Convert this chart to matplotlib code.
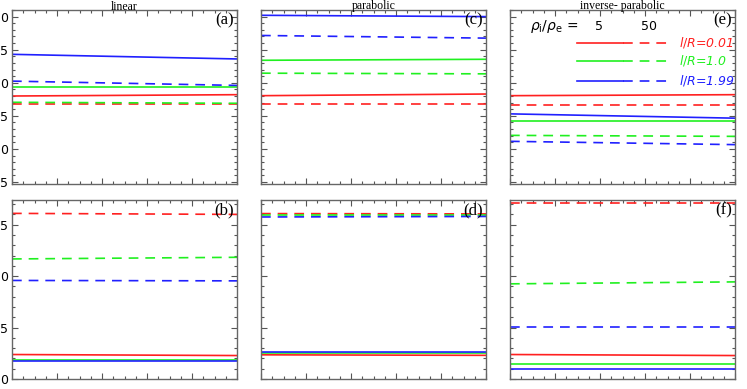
import matplotlib
matplotlib.use("Agg")
import matplotlib.pyplot as plt
from matplotlib.ticker import MultipleLocator

# x runs across each panel, values only read at the two ends
X = [0.0, 1.0]

# order: l/R = 0.01, 1.0, 1.99
LR_LABELS = ["0.01", "1.0", "1.99"]
COLORS = ["#ff2020", "#20f020", "#2020ff"]
RHO = ["5", "50"]

# panel (a) linear, top row
A_SOLID = [[1.80, 1.82], [1.93, 1.93], [2.43, 2.36]]
A_DASH = [[1.675, 1.675], [1.705, 1.69], [2.025, 1.96]]
# panel (c) parabolic, top row
C_SOLID = [[1.805, 1.83], [2.34, 2.355], [3.02, 3.00]]
C_DASH = [[1.68, 1.68], [2.145, 2.135], [2.715, 2.675]]
# panel (e) inverse-parabolic, top row
E_SOLID = [[1.805, 1.82], [1.425, 1.425], [1.53, 1.465]]
E_DASH = [[1.67, 1.67], [1.205, 1.19], [1.115, 1.065]]
# panel (b) linear, bottom row
B_SOLID = [[0.238, 0.228], [0.189, 0.189], [0.176, 0.176]]
B_DASH = [[1.61, 1.60], [1.167, 1.183], [0.958, 0.954]]
# panel (d) parabolic, bottom row
D_SOLID = [[0.235, 0.23], [0.252, 0.252], [0.265, 0.265]]
D_DASH = [[1.608, 1.605], [1.59, 1.59], [1.575, 1.58]]
# panel (f) inverse-parabolic, bottom row
F_SOLID = [[0.238, 0.228], [0.15, 0.15], [0.095, 0.095]]
F_DASH = [[1.715, 1.715], [0.925, 0.944], [0.503, 0.503]]

TITLES = ["linear", "parabolic", "inverse- parabolic"]
TOP = [("(a)", A_SOLID, A_DASH), ("(c)", C_SOLID, C_DASH), ("(e)", E_SOLID, E_DASH)]
BOT = [("(b)", B_SOLID, B_DASH), ("(d)", D_SOLID, D_DASH), ("(f)", F_SOLID, F_DASH)]

TOP_YLIM = (0.47, 3.1)
BOT_YLIM = (0.0, 1.74)
DASH = (7.0, 5.0)

W, H = 747, 389
fig = plt.figure(figsize=(W / 100, H / 100), dpi=100)
plt.rcParams["lines.scale_dashes"] = False

lefts = [12, 261, 510]
pw = 225


def make_ax(x0, y0, y1):
    return fig.add_axes([x0 / W, 1 - y1 / H, pw / W, (y1 - y0) / H])


def last_digit(v, pos):
    # the original is cropped on the left: only the last digit of each label shows
    return ("%.1f" % v)[-1]


def style(ax, ylim, first):
    ax.set_xlim(0, 1)
    ax.set_ylim(*ylim)
    ax.xaxis.set_major_locator(MultipleLocator(0.2))
    ax.xaxis.set_minor_locator(MultipleLocator(0.05))
    ax.yaxis.set_major_locator(MultipleLocator(0.5))
    ax.yaxis.set_minor_locator(MultipleLocator(0.1))
    ax.tick_params(which="both", direction="in", top=True, right=True,
                   labelbottom=False, labelleft=first, colors="#555555",
                   labelcolor="black", labelsize=9, pad=3)
    ax.tick_params(which="major", length=4, width=0.8)
    ax.tick_params(which="minor", length=2, width=0.8)
    for s in ax.spines.values():
        s.set_color("#666666")
        s.set_linewidth(1.0)
    if first:
        ax.yaxis.set_major_formatter(last_digit)


for i, (x0, (lt, ts, td), (lb, bs, bd)) in enumerate(zip(lefts, TOP, BOT)):
    axt = make_ax(x0, 10, 184)
    axb = make_ax(x0, 200, 379)
    for ax, lab, sol, das, ylim in [(axt, lt, ts, td, TOP_YLIM), (axb, lb, bs, bd, BOT_YLIM)]:
        style(ax, ylim, i == 0)
        for c, ys in zip(COLORS, sol):
            ax.plot(X, ys, color=c, lw=1.2, solid_capstyle="butt")
        for c, ys in zip(COLORS, das):
            ax.plot(X, ys, color=c, lw=1.2, dashes=DASH)
        ax.text(0.985, 0.985, lab, transform=ax.transAxes, ha="right", va="top",
                family="Liberation Serif", fontsize=12)
    fig.text((x0 + pw / 2) / W, 1 - 0.5 / H, TITLES[i], ha="center", va="top",
             family="Liberation Serif", fontsize=8.5)
    if i == 2:
        axt.text(0.09, 0.905, r"$\rho_{\rm i}/\rho_{\rm e}$ =", transform=axt.transAxes,
                 ha="left", va="center", fontsize=10)
        for xr, r in zip([0.394, 0.616], RHO):
            axt.text(xr, 0.905, r, transform=axt.transAxes, ha="center", va="center", fontsize=9)
        for c, lr, yy in zip(COLORS, LR_LABELS, [0.812, 0.707, 0.592]):
            axt.plot([0.298, 0.502], [yy, yy], color=c, lw=1.2, transform=axt.transAxes)
            axt.plot([0.502, 0.707], [yy, yy], color=c, lw=1.2, dashes=DASH,
                     transform=axt.transAxes)
            axt.text(0.75, yy, r"$l/R$=" + lr, color=c, transform=axt.transAxes,
                     ha="left", va="center", fontsize=9, style="italic")

fig.savefig("out.png", dpi=100)
